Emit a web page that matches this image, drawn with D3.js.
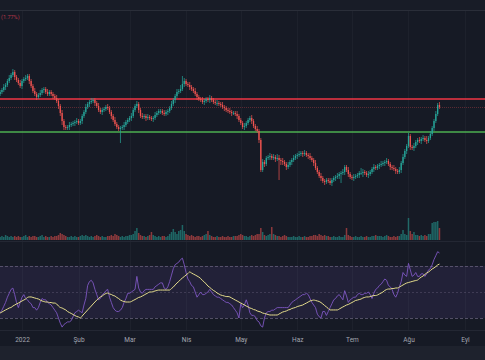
<!DOCTYPE html>
<html><head><meta charset="utf-8">
<script src="https://cdn.jsdelivr.net/npm/d3@7"></script>
<style>html,body{margin:0;padding:0;background:#161a25;overflow:hidden}svg{display:block}</style>
</head><body><svg id="c" width="485" height="360"></svg>
<script>
// ---------------- data ----------------
const firstDay = [2021, 11, 20]; // first candle: 20 Dec 2021, daily candles
const openP = [156,158,160,163,165,169,172,175,178,173,170,167,164,169,171,172,174,169,164,159,156,153,155,157,160,161,158,156,158,156,154,152,149,144,137,129,123,122,123,125,126,127,128,129,127,129,134,138,143,146,148,149,150,147,144,140,138,140,141,143,142,138,134,130,126,123,121,122,123,125,128,130,132,134,140,144,146,140,134,133,134,132,133,132,131,132,135,137,139,139,137,136,138,139,142,146,150,154,158,159,161,166,169,166,165,163,161,159,156,153,151,150,148,149,151,150,152,150,148,147,147,146,145,143,142,140,139,138,137,137,136,134,130,127,123,124,127,130,132,129,124,121,119,110,80,88,86,92,93,94,92,93,91,92,90,89,88,86,83,85,88,90,92,94,95,96,97,96,97,95,94,92,90,87,82,78,74,72,69,68,70,69,67,70,72,73,74,76,77,78,83,80,76,73,72,73,74,75,77,77,78,77,75,76,78,81,83,82,84,85,86,87,88,89,86,83,82,81,79,78,80,87,93,99,104,114,103,102,104,108,110,109,111,112,110,109,112,116,122,129,136,145];
const closeP = [158,160,163,165,169,172,175,178,173,170,167,164,169,171,172,174,169,164,159,156,153,155,157,160,161,158,156,158,156,154,152,149,144,137,129,123,122,123,125,126,127,128,129,127,129,134,138,143,146,148,149,150,147,144,140,138,140,141,143,142,138,134,130,126,123,121,122,123,125,128,130,132,134,140,144,146,140,134,133,134,132,133,132,131,132,135,137,139,139,137,136,138,139,142,146,150,154,158,159,161,166,169,166,165,163,161,159,156,153,151,150,148,149,151,150,152,150,148,147,147,146,145,143,142,140,139,138,137,137,136,134,130,127,123,124,127,130,132,129,124,121,119,110,80,88,86,92,93,94,92,93,91,92,90,89,88,86,83,85,88,90,92,94,95,96,97,96,97,95,94,92,90,87,82,78,74,72,69,68,70,69,67,70,72,73,74,76,77,78,83,80,76,73,72,73,74,75,77,77,78,77,75,76,78,81,83,82,84,85,86,87,88,89,86,83,82,81,79,78,80,87,93,99,104,114,103,102,104,108,110,109,111,112,110,109,112,116,122,129,136,145,143];
const upperWick = [2,2,3,2,2,3,2,3,2,2, 2,3,2,2,3,2,2,2,2,3, 2,2,3,2,2,2,3,2,2,2, 2,3,2,2,3,2,2,2,3,2, 2,2,3,2,2,2,2,3,2,2, 3,2,2,2,3,2,2,2,2,3, 2,2,2,3,2,2,2,2,3,2, 2,2,3,2,2,3,2,2,3,2, 2,3,2,2,2,3,2,2,2,2, 3,2,2,2,3,2,2,3,2,4, 8,3,2,2,3,2,2,3,2,2, 2,3,2,2,2,3,2,2,2,3, 2,2,3,2,2,2,3,2,2,2, 3,2,2,2,3,2,2,2,3,2, 2,3,2,2,3,2,2,2,3,2, 3,2,4,3,2,3,2,2,3,2, 2,3,2,2,3,2,2,3,2,2, 3,2,2,3,2,2,3,2,2,2, 2,3,2,2,2,3,2,2,3,2, 2,3,2,2,3,2,2,2,5,3, 2,2,3,2,2,3,2,2,2,3, 2,2,3,2,2,2,3,2,2,3, 2,3,2,2,3,2,2,3,2,2, 3,2,3,2,4,2,3,2,2,3, 2,3];
const lowerWick = [2,2,2,3,2,2,2,2,3,2, 2,2,3,2,2,2,3,2,2,2, 3,2,2,2,3,2,2,2,2,3, 2,2,3,3,4,3,2,2,3,2, 2,3,2,2,2,3,2,2,2,3, 2,2,3,2,2,2,3,2,2,2, 2,3,2,2,2,2,14,2,3,2, 2,2,3,2,2,2,3,2,2,2, 3,2,2,2,3,2,2,2,3,2, 2,2,3,2,2,2,3,2,2,2, 2,3,2,2,3,2,2,2,3,2, 2,2,3,2,2,3,2,2,2,3, 2,2,2,3,2,2,2,3,2,2, 3,2,2,2,3,2,2,2,3,2, 2,2,3,2,2,3,2,2,3,2, 2,3,2,20,4,3,2,3,2,2, 3,2,2,3,2,2,3,2,2,3, 2,2,3,2,2,2,3,2,3,2, 2,2,3,2,3,2,3,9,2,3, 2,3,2,2,3,2,2,3,2,4, 2,2,3,2,2,3,2,2,3,2, 2,3,2,2,3,2,2,3,2,2, 3,2,2,3,2,3,2,3,2,3, 2,3,2,2,3,2,2,2,3,2, 2,2];
const volume = [3,4,3,5,4,3,4,3,4,3, 4,3,3,4,5,3,4,3,4,4, 3,3,4,5,3,4,3,3,4,3, 4,4,5,7,6,5,4,3,3,4, 3,4,3,3,4,5,4,5,4,3, 4,3,4,5,4,3,4,3,3,4, 4,5,4,6,5,4,3,4,3,4, 4,5,5,6,9,12,7,5,4,4, 3,4,5,8,5,4,3,4,3,4, 4,3,4,6,8,11,8,6,9,10, 15,9,6,5,4,5,4,3,4,4, 3,4,5,6,9,5,4,3,3,4, 3,3,4,3,3,4,3,3,4,4, 4,5,6,5,4,4,3,4,5,4, 5,6,6,12,8,5,4,5,6,13, 6,5,4,4,3,4,5,4,3,3, 3,4,3,3,4,3,3,4,3,3, 4,4,5,5,4,6,5,4,5,4, 4,3,3,4,3,3,4,3,3,5, 12,5,4,3,3,4,3,3,4,3, 3,4,3,3,4,4,5,4,4,4, 3,4,5,4,3,3,4,3,4,4, 6,10,6,5,22,9,6,8,5,5, 4,5,4,5,4,6,6,17,18,18, 19,12];
const rsi = [34,36,39,42,46,49,52,53,48,42, 38,42,46,48,45,44,42,41,38,38, 36,38,42,45,44,44,42,41,40,38, 36,34,30,26,23,25,26,27,27,28, 31,34,35,36,35,34,40,45,55,58, 59,57,52,48,44,45,48,49,51,52, 46,42,38,36,35,35,36,38,42,45, 49,49,50,51,52,62,53,50,49,51, 52,52,52,52,52,54,55,56,57,57, 53,52,54,58,63,68,71,72,73,75, 76,71,65,60,58,55,54,50,46,48, 50,48,48,49,50,52,50,48,47,46, 46,45,44,43,42,42,41,40,38,36, 34,30,41,38,40,44,40,34,32,32, 31,28,27,24,23,30,34,35,35,36, 36,37,38,38,38,38,38,38,38,40, 42,43,44,45,46,47,48,48,49,48, 45,42,40,38,33,31,30,35,35,32, 35,38,41,44,45,47,48,46,44,51, 47,42,44,45,46,46,48,49,48,48, 49,49,50,48,45,49,52,53,55,56, 58,60,59,55,54,52,48,46,49,54, 58,65,63,62,72,67,62,63,65,62, 62,64,64,62,64,67,68,71,75,78, 81,80];
const rsiMA = [33.8,34.6,35.4,36.2,36.9,37.7,38.1,39.2,40.0,40.8, 41.5,42.3,43.1,43.8,44.6,45.8,46.2,46.2,45.8,45.4, 45.0,44.6,43.8,43.1,42.7,42.3,42.3,41.9,41.9,41.5, 41.5,40.8,39.2,38.1,37.7,36.9,36.2,35.0,34.2,33.5, 32.7,31.9,31.2,30.8,30.0,31.5,33.1,34.6,36.2,37.7, 39.2,40.8,42.3,43.8,45.0,46.2,46.9,48.1,48.8,49.2, 48.5,48.1,47.3,46.9,45.8,45.0,43.8,43.1,42.7,42.3, 42.3,42.3,42.7,43.5,44.2,45.0,45.8,46.2,46.9,47.7, 48.5,49.2,50.0,50.0,50.4,50.8,51.2,51.5,51.5,51.5, 51.5,51.5,51.5,51.5,52.7,53.8,55.4,56.9,58.1,59.6, 60.8,61.9,63.1,64.2,65.4,64.6,63.8,63.1,62.3,61.5, 60.4,58.8,57.7,56.2,54.6,53.5,52.3,51.2,50.4,49.2, 48.5,47.7,47.3,46.9,46.5,46.5,46.2,45.4,44.6,43.8, 43.1,42.3,41.5,40.8,40.0,39.2,38.5,37.7,37.3,36.5, 36.2,35.4,35.0,34.6,33.8,33.5,33.1,32.7,32.3,32.3, 32.3,32.3,32.3,33.1,33.8,34.6,35.0,35.4,36.2,36.5, 37.3,37.7,38.1,38.8,39.2,39.6,40.0,40.8,41.5,42.3, 43.1,43.5,43.8,43.5,43.1,42.7,41.9,40.8,39.6,38.5, 37.3,36.2,36.2,36.2,36.2,36.2,36.9,37.7,38.5,39.2, 40.0,40.4,41.2,41.9,42.7,43.5,43.8,44.2,44.6,45.4, 45.8,46.2,46.2,46.5,46.9,47.3,47.3,47.7,48.5,49.2, 50.0,51.2,51.9,52.3,52.3,52.7,52.7,53.1,53.1,53.8, 54.6,55.4,56.2,56.9,57.3,57.7,58.1,58.5,58.8,59.2, 60.4,61.5,62.3,63.5,64.6,65.4,66.5,67.7,68.5,69.6, 70.8,71.5];
const resistanceLevel = 151;
const supportLevel = 118;
const monthTicks = ["2022-01-01","2022-02-01","2022-03-01","2022-04-01","2022-05-01","2022-06-01","2022-07-01","2022-08-01","2022-09-01"];
const monthLabels = ["2022","Şub","Mar","Nis","May","Haz","Tem","Ağu","Eyl"];
const rsiLevels = [70, 50, 30];
const changeText = "(1.77%)";

// ---------------- chart ----------------
const W = 485, H = 360;
const svg = d3.select("#c");
const up = "#26a69a", dn = "#ef5350";

const t0 = new Date(Date.UTC(firstDay[0], firstDay[1], firstDay[2]));
const bars = closeP.map((c, i) => {
  const o = openP[i];
  return {
    date: d3.utcDay.offset(t0, i),
    o, c,
    h: Math.max(o, c) + upperWick[i],
    l: Math.min(o, c) - lowerWick[i],
    v: volume[i], r: rsi[i], m: rsiMA[i]
  };
});

const x = d3.scaleUtc()
  .domain([new Date(Date.UTC(2022,0,1)), new Date(Date.UTC(2022,8,1))])
  .range([22, 465]);
const y = d3.scaleLinear().domain([0, 250]).range([250, 0]);
const vy = d3.scaleLinear().domain([0, 25]).range([240, 215]);
const ry = d3.scaleLinear().domain([30, 70]).range([318, 266]);

// backgrounds
svg.append("rect").attr("width", W).attr("height", H).attr("fill", "#161a25");
svg.append("rect").attr("x", 0).attr("y", 0).attr("width", W).attr("height", 10).attr("fill", "#181c27");
svg.append("line").attr("x1", 0).attr("x2", W).attr("y1", 10.5).attr("y2", 10.5).attr("stroke", "#2a2e39");
svg.append("rect").attr("x", 0).attr("y", 346).attr("width", W).attr("height", 14).attr("fill", "#1e222d");

// vertical grid
const tickDates = monthTicks.map(s => new Date(s + "T00:00:00Z"));
svg.append("g").selectAll("line").data(tickDates).join("line")
  .attr("x1", d => Math.round(x(d)) + 0.5).attr("x2", d => Math.round(x(d)) + 0.5)
  .attr("y1", 11).attr("y2", 330)
  .attr("stroke", "#1d212c").attr("stroke-width", 1);

// pane separators
svg.append("line").attr("x1", 0).attr("x2", W).attr("y1", 241.5).attr("y2", 241.5).attr("stroke", "#232733");
svg.append("line").attr("x1", 0).attr("x2", W).attr("y1", 330.5).attr("y2", 330.5).attr("stroke", "#232733");

// top text
svg.append("text").attr("x", 1).attr("y", 18.5).attr("text-anchor", "start")
  .attr("font-family", "Roboto, 'Noto Sans', sans-serif").attr("font-size", 5.5)
  .attr("fill", "#b8374a").text(changeText);

// volume
svg.append("g").selectAll("rect").data(bars).join("rect")
  .attr("x", d => x(d.date) - 0.75).attr("width", 1.5)
  .attr("y", d => vy(d.v)).attr("height", d => vy(0) - vy(d.v))
  .attr("fill", d => d.c >= d.o ? up : dn).attr("fill-opacity", 0.55);

// horizontal levels
svg.append("line").attr("x1", 0).attr("x2", W)
  .attr("y1", y(resistanceLevel)).attr("y2", y(resistanceLevel))
  .attr("stroke", "#f23645").attr("stroke-width", 1.6);
svg.append("line").attr("x1", 0).attr("x2", W)
  .attr("y1", y(supportLevel)).attr("y2", y(supportLevel))
  .attr("stroke", "#4caf50").attr("stroke-width", 1.6);
// last price line
const last = bars[bars.length - 1];
svg.append("line").attr("x1", 0).attr("x2", W)
  .attr("y1", Math.round(y(last.c)) + 0.5).attr("y2", Math.round(y(last.c)) + 0.5)
  .attr("stroke", "#5a2a33").attr("stroke-width", 1).attr("stroke-dasharray", "1,1");

// candles
const cg = svg.append("g");
cg.selectAll("line").data(bars).join("line")
  .attr("x1", d => x(d.date)).attr("x2", d => x(d.date))
  .attr("y1", d => y(d.h)).attr("y2", d => y(d.l))
  .attr("stroke", d => d.c >= d.o ? up : dn).attr("stroke-width", 0.7);
cg.selectAll("rect").data(bars).join("rect")
  .attr("x", d => x(d.date) - 0.65).attr("width", 1.3)
  .attr("y", d => y(Math.max(d.o, d.c)))
  .attr("height", d => Math.max(0.8, Math.abs(y(d.o) - y(d.c))))
  .attr("fill", d => d.c >= d.o ? up : dn);

// RSI pane
svg.append("rect").attr("x", 0).attr("width", W)
  .attr("y", ry(70)).attr("height", ry(30) - ry(70))
  .attr("fill", "#7e57c2").attr("fill-opacity", 0.12);
svg.append("g").selectAll("line").data(rsiLevels).join("line")
  .attr("x1", 0).attr("x2", W)
  .attr("y1", d => ry(d) + 0.5).attr("y2", d => ry(d) + 0.5)
  .attr("stroke", "#6b6580").attr("stroke-width", 0.8)
  .attr("stroke-dasharray", d => d === 50 ? "2,2" : "3,2")
  .attr("stroke-opacity", d => d === 50 ? 0.5 : 0.9);

svg.append("path").datum(bars)
  .attr("fill", "none").attr("stroke", "#7e57c2").attr("stroke-width", 0.9)
  .attr("d", d3.line().x(d => x(d.date)).y(d => ry(d.r)));
svg.append("path").datum(bars)
  .attr("fill", "none").attr("stroke", "#e5dd8c").attr("stroke-width", 1)
  .attr("d", d3.line().curve(d3.curveMonotoneX).x(d => x(d.date)).y(d => ry(d.m)));

// time axis
const axis = d3.axisBottom(x).tickValues(tickDates).tickSize(0)
  .tickFormat((d, i) => monthLabels[i]);
const ag = svg.append("g").attr("transform", "translate(0,334)").call(axis);
ag.select(".domain").remove();
ag.selectAll("text")
  .attr("font-family", "Roboto, 'Noto Sans', sans-serif")
  .attr("font-size", 6.5).attr("fill", "#a3a6af").attr("dy", "0.71em");
</script></body></html>
